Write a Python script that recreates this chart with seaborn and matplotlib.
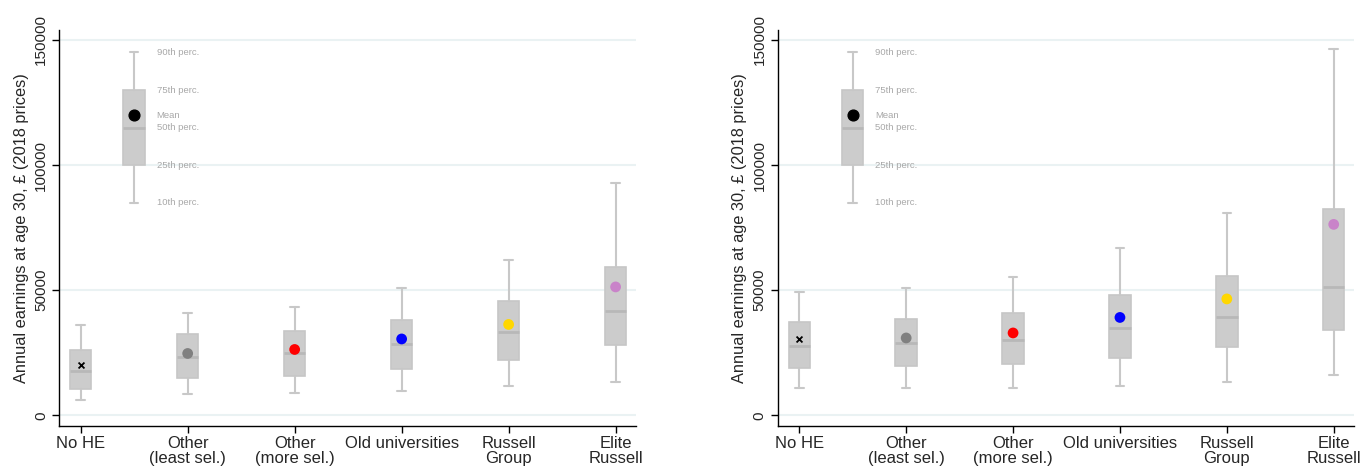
import numpy as np
import pandas as pd
import matplotlib
matplotlib.use("Agg")
import matplotlib.pyplot as plt
import seaborn as sns

groups = ["No HE", "Other\n(least sel.)", "Other\n(more sel.)", "Old universities",
          "Russell\nGroup", "Elite\nRussell"]
mean_colors = ["black", "#808080", "#ff0000", "#0000ff", "#ffd700", "#c983c9"]

# left panel: percentiles (10, 25, 50, 75, 90) and means
left_p10 = [6200, 8500, 8900, 9800, 11800, 13300]
left_p25 = [10500, 14900, 15800, 18300, 22100, 27900]
left_p50 = [17500, 23400, 24900, 28600, 33100, 41500]
left_p75 = [26200, 32500, 33800, 38200, 45700, 59400]
left_p90 = [35900, 40700, 43300, 51000, 62200, 93000]
left_mean = [20100, 24700, 26300, 30500, 36300, 51300]

# right panel
right_p10 = [10700, 10900, 10900, 11600, 13200, 15900]
right_p25 = [18900, 19600, 20300, 22800, 27200, 34000]
right_p50 = [27600, 28900, 30000, 34900, 39200, 51200]
right_p75 = [37300, 38500, 40700, 48100, 55600, 82500]
right_p90 = [49200, 50900, 55100, 66800, 80700, 146400]
right_mean = [30500, 30900, 32900, 39100, 46500, 76300]

# key box
key_values = [85000, 100000, 115000, 130000, 145000]
key_mean = 120000
key_labels = ["10th perc.", "25th perc.", "50th perc.", "75th perc.", "90th perc."]

sns.set_style("white")
plt.rcParams["font.family"] = ["Liberation Sans", "DejaVu Sans"]

box_kw = dict(
    widths=0.2, capwidths=0.08, showfliers=False, patch_artist=True,
    boxprops=dict(facecolor="#cccccc", edgecolor="#c6c6c6", linewidth=1.2),
    whiskerprops=dict(color="#c8c8c8", linewidth=1.5),
    capprops=dict(color="#c8c8c8", linewidth=1.5),
    medianprops=dict(color="#b8b8b8", linewidth=2),
)


def draw_panel(ax, p10, p25, p50, p75, p90, means):
    stats = [dict(whislo=a, q1=b, med=c, q3=d, whishi=e)
             for a, b, c, d, e in zip(p10, p25, p50, p75, p90)]
    ax.bxp(stats, positions=np.arange(len(groups)), **box_kw)
    key = [dict(whislo=key_values[0], q1=key_values[1], med=key_values[2],
                q3=key_values[3], whishi=key_values[4])]
    ax.bxp(key, positions=[0.5], **box_kw)

    df = pd.DataFrame({"pos": np.arange(len(groups)), "mean": means, "group": groups})
    sns.scatterplot(data=df.iloc[1:], x="pos", y="mean", hue="group",
                    palette=mean_colors[1:], s=60, edgecolor="none",
                    legend=False, ax=ax, zorder=5)
    sns.scatterplot(data=df.iloc[:1], x="pos", y="mean", color="black",
                    marker="x", s=18, linewidth=1.3, legend=False, ax=ax, zorder=5)
    ax.scatter([0.5], [key_mean], s=60, color="black", zorder=5)

    for v, lab in zip(key_values, key_labels):
        ax.text(0.71, v, lab, fontsize=6.8, color="#a8a8a8", va="center", ha="left")
    ax.text(0.71, key_mean, "Mean", fontsize=6.8, color="#a8a8a8", va="center", ha="left")

    ax.set_xlim(-0.2, 5.19)
    ax.set_ylim(-4400, 154000)
    ax.set_xticks(np.arange(len(groups)))
    ax.set_xticklabels(groups, fontsize=12, linespacing=1.0)
    ax.set_yticks([0, 50000, 100000, 150000])
    ax.set_yticklabels(["0", "50000", "100000", "150000"], fontsize=11,
                       rotation=90, va="center")
    ax.tick_params(axis="both", direction="out", length=5, width=1, color="black",
                   bottom=True, left=True)
    ax.tick_params(axis="y", pad=3)
    ax.tick_params(axis="x", pad=2)
    ax.grid(axis="y", color="#eaf2f3", linewidth=1.5)
    ax.set_axisbelow(True)
    for side in ["top", "right"]:
        ax.spines[side].set_visible(False)
    for side in ["left", "bottom"]:
        ax.spines[side].set_color("black")
        ax.spines[side].set_linewidth(1)
    ax.set_xlabel("")
    ax.set_ylabel("Annual earnings at age 30, £ (2018 prices)", fontsize=11.8, labelpad=4)


fig = plt.figure(figsize=(13.6, 4.67), dpi=100)
ax1 = fig.add_axes([0.0436, 0.0872, 0.424, 0.8486])
ax2 = fig.add_axes([0.572, 0.0872, 0.4236, 0.8486])
draw_panel(ax1, left_p10, left_p25, left_p50, left_p75, left_p90, left_mean)
draw_panel(ax2, right_p10, right_p25, right_p50, right_p75, right_p90, right_mean)

fig.savefig("out.png", dpi=100, facecolor="white")
